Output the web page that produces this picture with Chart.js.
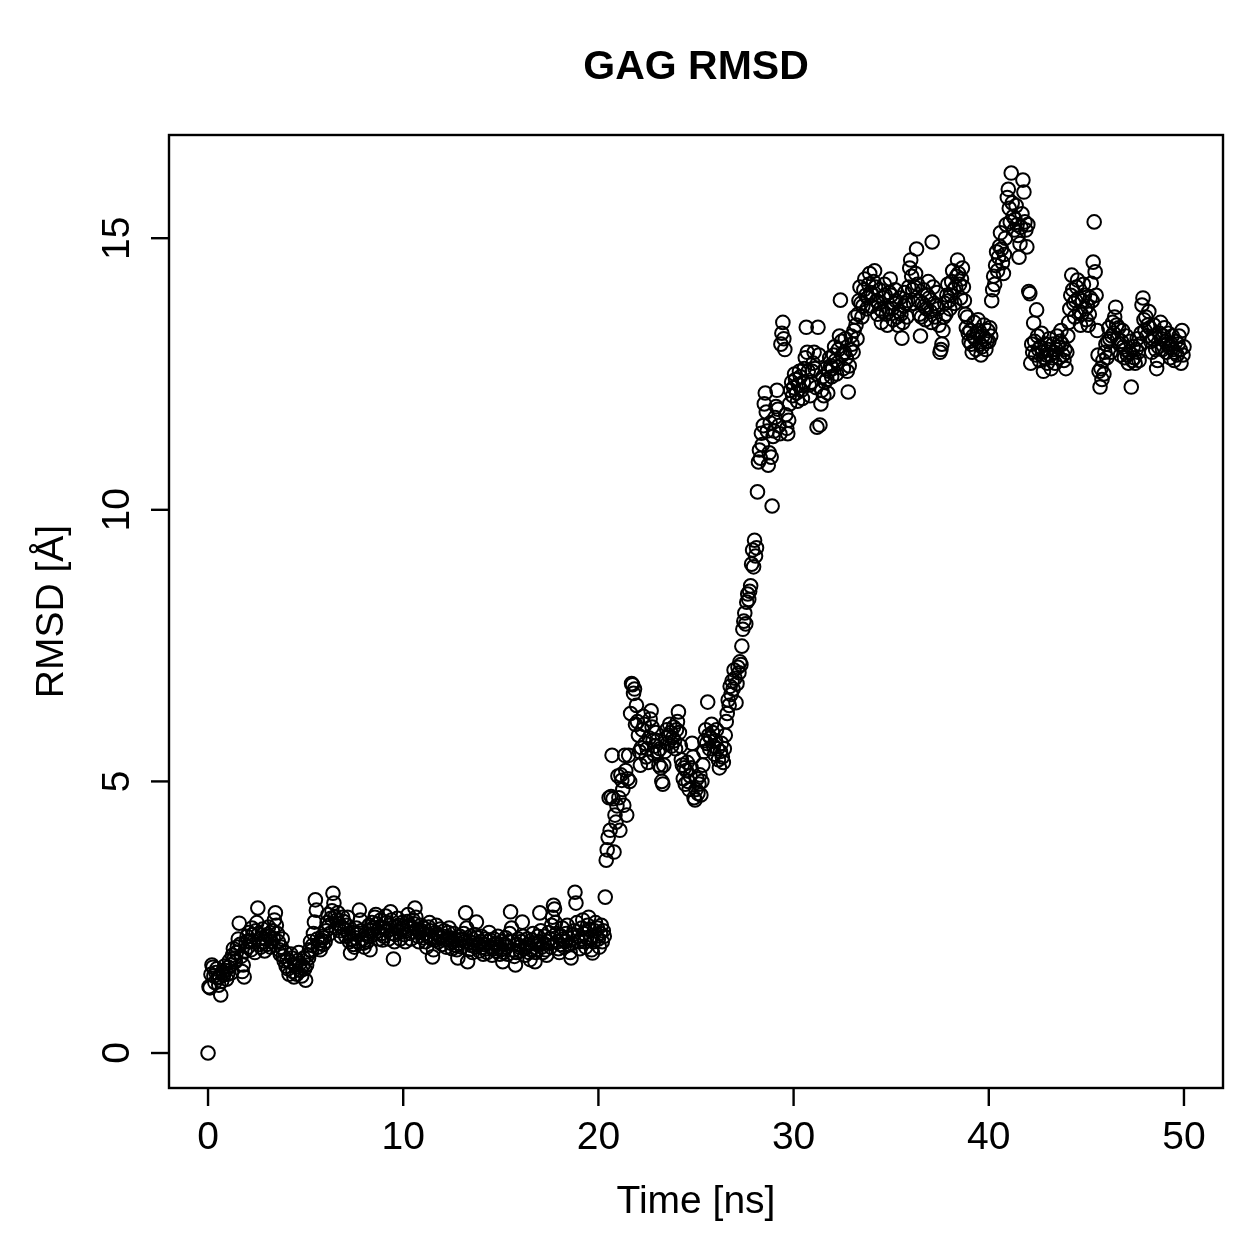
<!DOCTYPE html>
<html>
<head>
<meta charset="utf-8">
<script src="https://cdn.jsdelivr.net/npm/chart.js@4/dist/chart.umd.min.js"></script>
<style>
html,body{margin:0;padding:0;background:#fff;}
canvas{display:block;}
</style>
</head>
<body>
<canvas id="c" width="1259" height="1259"></canvas>
<script>
const chartTitle = "GAG RMSD";
const xAxisTitle = "Time [ns]";
const yAxisTitle = "RMSD [Å]";
const xTicks = [0, 10, 20, 30, 40, 50];
const yTicks = [0, 5, 10, 15];
const timeStep = 0.05; // ns between frames
const rmsd = [
0.00,1.22,1.20,1.45,1.62,1.58,1.42,1.30,1.48,1.55,1.38,1.25,1.40,1.07,1.32,1.50,1.44,1.60,1.52,1.36,
1.45,1.58,1.70,1.62,1.48,1.80,1.92,1.75,1.68,1.85,1.95,2.10,2.39,2.00,1.78,1.50,1.62,1.40,1.88,2.05,
2.15,1.95,2.22,2.05,1.90,2.30,2.18,2.05,1.85,2.25,2.40,2.67,2.20,2.00,1.95,2.12,2.28,2.05,1.88,2.10,
2.00,2.18,2.32,2.15,1.95,2.05,2.25,2.10,2.45,2.58,2.35,2.20,2.05,1.90,1.82,1.95,2.10,1.78,1.70,1.85,
1.60,1.72,1.55,1.45,1.68,1.82,1.75,1.50,1.40,1.62,1.58,1.45,1.70,1.85,1.65,1.52,1.42,1.60,1.75,1.55,
1.34,1.62,1.80,1.75,1.90,2.05,1.88,1.98,2.20,2.41,2.82,2.63,2.10,1.95,2.02,1.90,2.08,2.15,2.00,2.12,
2.05,2.25,2.40,2.55,2.35,2.20,2.48,2.62,2.94,2.76,2.50,2.30,2.45,2.58,2.38,2.25,2.15,2.32,2.50,2.42,
2.28,2.15,2.35,2.50,2.20,2.05,1.84,2.10,2.22,2.00,1.95,2.12,2.30,2.18,2.05,2.63,2.45,2.25,2.10,2.02,
1.95,2.08,2.20,2.05,2.15,2.35,1.90,2.25,2.40,2.30,2.18,2.50,2.55,2.38,2.25,2.10,2.32,2.45,2.20,2.08,
2.15,2.30,2.52,2.40,2.25,2.10,2.35,2.60,2.45,2.20,1.73,2.05,2.18,2.32,2.48,2.35,2.22,2.10,2.28,2.40,
2.30,2.18,2.05,2.25,2.42,2.55,2.35,2.20,2.10,2.30,2.45,2.38,2.67,2.50,2.28,2.15,2.05,2.22,2.35,2.25,
2.12,2.30,2.20,2.05,1.95,2.15,2.32,2.40,2.25,2.10,1.77,1.90,2.08,2.22,2.35,2.18,2.05,2.15,2.28,2.12,
2.00,2.15,2.25,2.08,1.95,2.10,2.22,2.30,2.12,2.02,1.92,2.05,2.20,2.10,1.98,1.90,1.75,2.02,2.15,2.08,
1.95,2.10,2.20,2.05,2.58,2.30,1.68,1.90,2.05,2.15,1.98,1.85,2.02,2.18,1.95,2.41,2.12,2.00,1.88,2.05,
2.15,1.95,1.82,2.00,2.10,1.92,1.85,2.05,2.22,2.08,1.95,1.80,1.92,2.10,2.00,1.88,2.02,2.15,1.95,1.82,
1.90,2.05,1.68,1.85,2.00,2.12,1.95,1.82,2.05,2.20,2.60,2.30,2.05,1.90,1.78,1.62,1.85,2.00,2.10,1.95,
1.88,2.05,2.41,2.15,1.92,1.80,1.95,2.10,2.00,1.85,1.72,1.90,2.08,2.20,2.02,1.68,1.85,2.00,2.15,2.05,
2.58,2.25,1.95,1.85,2.02,2.15,1.90,1.80,2.05,2.22,2.10,1.95,2.35,2.50,2.72,2.65,2.40,2.20,2.05,1.92,
1.85,2.00,2.15,2.30,2.10,1.95,2.05,2.20,2.35,2.12,2.00,1.85,1.75,2.02,2.18,2.25,2.96,2.76,2.40,2.15,
2.05,1.92,2.10,2.30,2.45,2.20,2.05,1.95,2.12,2.35,2.50,2.28,2.10,1.90,1.84,2.05,2.25,2.40,2.15,2.30,
2.10,1.95,2.20,2.35,2.05,2.25,2.15,2.87,3.55,3.74,3.97,4.70,4.10,4.72,5.48,4.68,3.70,4.38,4.25,4.55,
5.10,4.70,4.10,5.12,5.02,4.85,4.56,5.48,5.20,4.38,5.05,5.48,5.00,6.25,6.80,6.78,6.62,6.70,6.05,6.40,
6.10,5.85,5.55,5.30,5.62,5.95,6.20,6.05,5.70,5.45,5.60,5.35,5.80,6.15,6.30,6.00,5.75,5.50,5.65,5.90,
5.75,5.55,5.30,5.60,5.25,5.00,4.95,5.30,5.55,5.80,5.95,5.70,5.85,6.05,5.90,5.65,5.80,6.00,5.75,5.60,
5.95,6.10,6.28,5.90,5.65,5.40,5.30,5.05,5.25,4.95,5.20,5.35,5.00,4.85,5.10,5.25,5.70,5.45,4.70,4.66,
4.85,5.05,4.78,4.95,5.12,4.75,5.00,5.30,5.55,5.75,5.95,5.70,6.46,5.85,5.60,5.80,6.05,5.90,5.65,5.50,
5.75,5.95,5.60,5.40,5.25,5.55,5.70,5.45,5.35,5.60,5.85,6.10,6.25,6.50,6.40,6.75,6.60,6.85,6.70,7.05,
6.90,6.45,6.80,7.10,7.00,7.20,7.15,7.49,7.80,7.95,8.10,7.90,8.30,8.45,8.35,8.50,8.60,9.00,9.26,8.95,
9.44,9.15,9.30,10.33,10.88,11.10,10.95,11.41,11.20,11.55,11.95,12.15,11.80,11.45,10.82,11.05,11.60,10.97,10.07,11.35,
11.45,11.70,11.90,12.20,11.85,11.55,11.40,13.05,13.25,13.45,13.15,12.95,11.75,11.50,11.40,11.65,11.95,12.20,12.35,12.10,
12.25,12.50,12.40,12.15,12.00,12.30,12.55,12.45,12.20,12.05,12.35,12.60,12.80,13.36,12.90,12.55,12.30,12.10,12.35,12.55,
12.70,12.90,12.60,12.25,11.52,13.36,12.85,11.56,11.95,12.20,12.45,12.10,12.35,12.60,12.40,12.15,12.55,12.80,12.65,12.45,
12.60,12.85,13.00,12.75,12.50,12.70,12.95,13.20,13.86,13.10,12.85,12.60,12.90,13.15,12.80,12.55,12.17,12.65,12.95,13.20,
13.05,12.90,13.30,13.55,13.40,13.15,13.60,13.85,14.10,13.80,13.55,13.75,14.05,14.25,13.95,13.70,13.90,14.15,14.35,14.00,
13.75,13.95,14.20,14.40,14.10,13.85,13.60,13.80,14.05,13.70,13.45,13.65,13.90,14.15,13.95,13.60,13.40,13.70,14.00,14.25,
13.95,13.70,13.50,13.80,14.05,13.85,13.55,13.40,13.65,13.90,13.60,13.16,13.45,13.75,14.00,13.80,13.55,13.85,14.10,14.45,
14.60,14.30,14.05,13.80,14.10,14.35,14.80,14.15,13.85,13.60,13.20,13.55,13.80,14.05,13.75,13.50,13.70,13.95,14.20,13.90,
13.65,13.45,14.93,14.10,13.80,13.55,13.75,14.00,13.70,13.40,12.90,12.95,13.05,13.30,13.55,13.80,13.60,13.95,14.15,13.85,
13.70,13.95,14.20,14.40,14.05,13.80,14.10,14.30,14.60,14.35,14.15,13.90,14.25,14.45,14.10,13.85,13.60,13.35,13.55,13.25,
13.10,13.30,13.05,12.90,13.20,13.45,13.15,12.95,13.25,13.50,13.30,13.05,12.85,13.00,13.20,13.40,13.15,12.95,13.10,13.30,
13.10,13.35,13.20,13.85,14.05,14.30,14.15,14.50,14.75,14.40,14.65,14.85,15.10,14.80,14.55,14.35,14.70,15.00,15.25,15.75,
15.90,15.55,15.30,16.20,15.65,15.40,15.15,15.35,15.60,15.25,15.05,14.65,14.90,15.20,15.45,16.07,15.85,15.30,15.15,14.84,
15.25,14.02,13.98,12.70,13.05,12.90,13.44,13.10,12.85,13.68,13.20,12.95,12.75,13.00,13.25,12.90,12.55,12.80,13.05,12.85,
12.70,12.95,13.15,12.85,12.60,12.80,13.05,12.90,12.70,12.95,13.20,13.00,12.80,13.10,13.30,13.05,12.85,12.75,12.95,12.60,
12.90,13.20,13.45,13.70,13.95,14.32,14.05,13.80,13.55,13.85,14.10,14.23,13.90,13.65,13.40,13.60,13.85,14.15,13.95,13.70,
13.50,13.75,13.40,13.60,13.90,14.17,13.85,14.56,15.30,14.38,13.95,13.30,12.85,12.55,12.26,12.60,12.40,12.75,12.50,12.90,
13.05,12.80,13.10,13.35,13.15,12.90,13.20,13.45,13.25,13.55,13.73,13.40,13.15,13.35,13.05,12.85,13.10,13.30,13.00,12.80,
12.95,13.20,12.85,12.70,12.90,13.10,12.26,12.75,13.00,12.80,12.70,12.95,13.15,12.90,12.75,13.05,13.25,13.77,13.90,13.50,
13.30,13.55,13.20,13.40,13.65,13.35,13.10,12.90,13.15,13.40,13.20,12.95,12.60,12.75,13.00,13.25,13.45,13.15,12.95,13.20,
13.35,13.10,12.90,13.05,13.25,13.00,12.80,13.05,13.20,12.95,12.75,12.90,13.10,12.85,13.05,13.20,12.95,12.70,13.30,12.85,
13.00
];

const points = rmsd.map((v, i) => ({ x: i * timeStep, y: v }));

const FONT = '"Liberation Sans", Arial, Helvetica, sans-serif';

const rStyle = {
  id: 'rStyle',
  afterDraw(chart) {
    const ctx = chart.ctx;
    const a = chart.chartArea;
    const xs = chart.scales.x, ys = chart.scales.y;
    ctx.save();
    ctx.strokeStyle = '#000';
    ctx.fillStyle = '#000';
    ctx.lineWidth = 2.4;
    ctx.strokeRect(a.left, a.top, a.right - a.left, a.bottom - a.top);
    // x ticks
    ctx.font = '39px ' + FONT;
    ctx.textAlign = 'center';
    ctx.textBaseline = 'middle';
    xTicks.forEach(t => {
      const px = xs.getPixelForValue(t);
      ctx.beginPath();
      ctx.moveTo(px, a.bottom);
      ctx.lineTo(px, a.bottom + 18);
      ctx.stroke();
      ctx.fillText(String(t), px, 1138);
    });
    // y ticks
    yTicks.forEach(t => {
      const py = ys.getPixelForValue(t);
      ctx.beginPath();
      ctx.moveTo(a.left, py);
      ctx.lineTo(a.left - 18, py);
      ctx.stroke();
      ctx.save();
      ctx.translate(118, py);
      ctx.rotate(-Math.PI / 2);
      ctx.fillText(String(t), 0, 0);
      ctx.restore();
    });
    // axis titles
    ctx.fillText(xAxisTitle, (a.left + a.right) / 2, 1202);
    ctx.save();
    ctx.translate(52, (a.top + a.bottom) / 2);
    ctx.rotate(-Math.PI / 2);
    ctx.fillText(yAxisTitle, 0, 0);
    ctx.restore();
    // main title
    ctx.font = 'bold 41px ' + FONT;
    ctx.fillText(chartTitle, (a.left + a.right) / 2, 68);
    ctx.restore();
  }
};

new Chart(document.getElementById('c'), {
  type: 'scatter',
  data: {
    datasets: [{
      data: points,
      pointStyle: 'circle',
      pointRadius: 6.8,
      pointBorderWidth: 2,
      pointBorderColor: '#000',
      pointBackgroundColor: 'rgba(0,0,0,0)',
      showLine: false
    }]
  },
  options: {
    responsive: false,
    animation: false,
    events: [],
    layout: { padding: { left: 169, right: 36, top: 135, bottom: 171 } },
    plugins: { legend: { display: false }, tooltip: { enabled: false }, title: { display: false } },
    scales: {
      x: { type: 'linear', min: -2, max: 52, display: false },
      y: { type: 'linear', min: -0.644, max: 16.9, display: false }
    }
  },
  plugins: [rStyle]
});
</script>
</body>
</html>
